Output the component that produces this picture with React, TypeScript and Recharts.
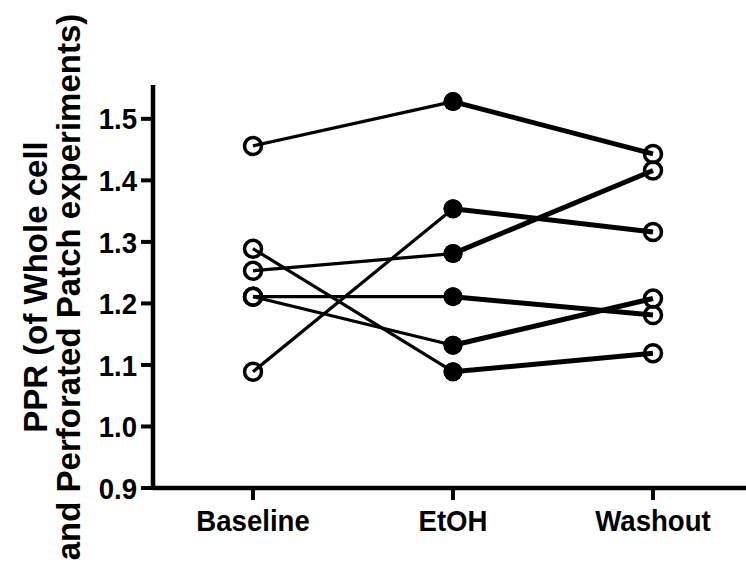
import { LineChart, Line, XAxis, YAxis } from 'recharts';

const categories = ['Baseline', 'EtOH', 'Washout'];

// one array per cell / experiment: [Baseline, EtOH, Washout]
const cell1 = [1.456, 1.528, 1.443];
const cell2 = [1.089, 1.354, 1.316];
const cell3 = [1.253, 1.281, 1.416];
const cell4 = [1.211, 1.211, 1.181];
const cell5 = [1.211, 1.132, 1.208];
const cell6 = [1.289, 1.089, 1.119];

const cells = [cell1, cell2, cell3, cell4, cell5, cell6];

const yTicks = [0.9, 1.0, 1.1, 1.2, 1.3, 1.4, 1.5];

// first segment (Baseline -> EtOH) and second segment (EtOH -> Washout) drawn as separate lines
const data = categories.map((name, i) => {
  const row: Record<string, any> = { name };
  cells.forEach((c, j) => {
    row[`a${j}`] = i < 2 ? c[i] : null;
    row[`b${j}`] = i > 0 ? c[i] : null;
  });
  return row;
});

const font = '"Liberation Sans", Arial, sans-serif';

const Dot = (props: any) => {
  const { cx, cy, index, key, value } = props;
  if (cx == null || cy == null || value == null) return <g key={key} />;
  if (index === 1) {
    return <circle key={key} cx={cx} cy={cy} r={9.5} fill="#000" />;
  }
  return <circle key={key} cx={cx} cy={cy} r={8.5} fill="none" stroke="#000" strokeWidth={3.5} />;
};

const XTick = (props: any) => {
  const { x, y, payload } = props;
  return (
    <text
      transform={`translate(${x}, ${y}) scale(0.92, 1)`}
      textAnchor="middle"
      dy="0.71em"
      fill="#000"
      fontSize={30}
      fontWeight="bold"
      fontFamily={font}
    >
      {payload.value}
    </text>
  );
};

const YTick = (props: any) => {
  const { x, y, payload } = props;
  return (
    <text
      transform={`translate(${x}, ${y}) scale(0.92, 1)`}
      textAnchor="end"
      dy="0.355em"
      fill="#000"
      fontSize={30}
      fontWeight="bold"
      fontFamily={font}
    >
      {Number(payload.value).toFixed(1)}
    </text>
  );
};

export default function App() {
  return (
    <div style={{ position: 'absolute', left: 0, top: 0, background: '#fff' }}>
      <LineChart
        width={746}
        height={564}
        data={data}
        margin={{ top: 85, right: 0, bottom: 0, left: 0 }}
      >
        <XAxis
          dataKey="name"
          interval={0}
          padding={{ left: 100, right: 93 }}
          height={76}
          axisLine={{ stroke: '#000', strokeWidth: 4.5 }}
          tickLine={{ stroke: '#000', strokeWidth: 4 }}
          tickSize={12}
          tickMargin={10}
          tick={<XTick />}
        />
        <YAxis
          type="number"
          domain={[0.9, 1.555]}
          ticks={yTicks}
          width={153}
          interval={0}
          axisLine={{ stroke: '#000', strokeWidth: 4.5 }}
          tickLine={{ stroke: '#000', strokeWidth: 4 }}
          tickSize={12}
          tickMargin={4}
          tick={<YTick />}
        />
        {cells.map((_, j) => (
          <Line
            key={`a${j}`}
            type="linear"
            dataKey={`a${j}`}
            stroke="#000"
            strokeWidth={3.2}
            dot={Dot}
            activeDot={false}
            connectNulls={false}
            isAnimationActive={false}
          />
        ))}
        {cells.map((_, j) => (
          <Line
            key={`b${j}`}
            type="linear"
            dataKey={`b${j}`}
            stroke="#000"
            strokeWidth={5}
            dot={Dot}
            activeDot={false}
            connectNulls={false}
            isAnimationActive={false}
          />
        ))}
        <text
          transform="translate(47, 287) rotate(-90)"
          textAnchor="middle"
          fill="#000"
          fontSize={33}
          fontWeight="bold"
          fontFamily={font}
        >
          <tspan x={0} dy={0}>PPR (of Whole cell</tspan>
          <tspan x={0} dy={33}>and Perforated Patch experiments)</tspan>
        </text>
      </LineChart>
    </div>
  );
}
